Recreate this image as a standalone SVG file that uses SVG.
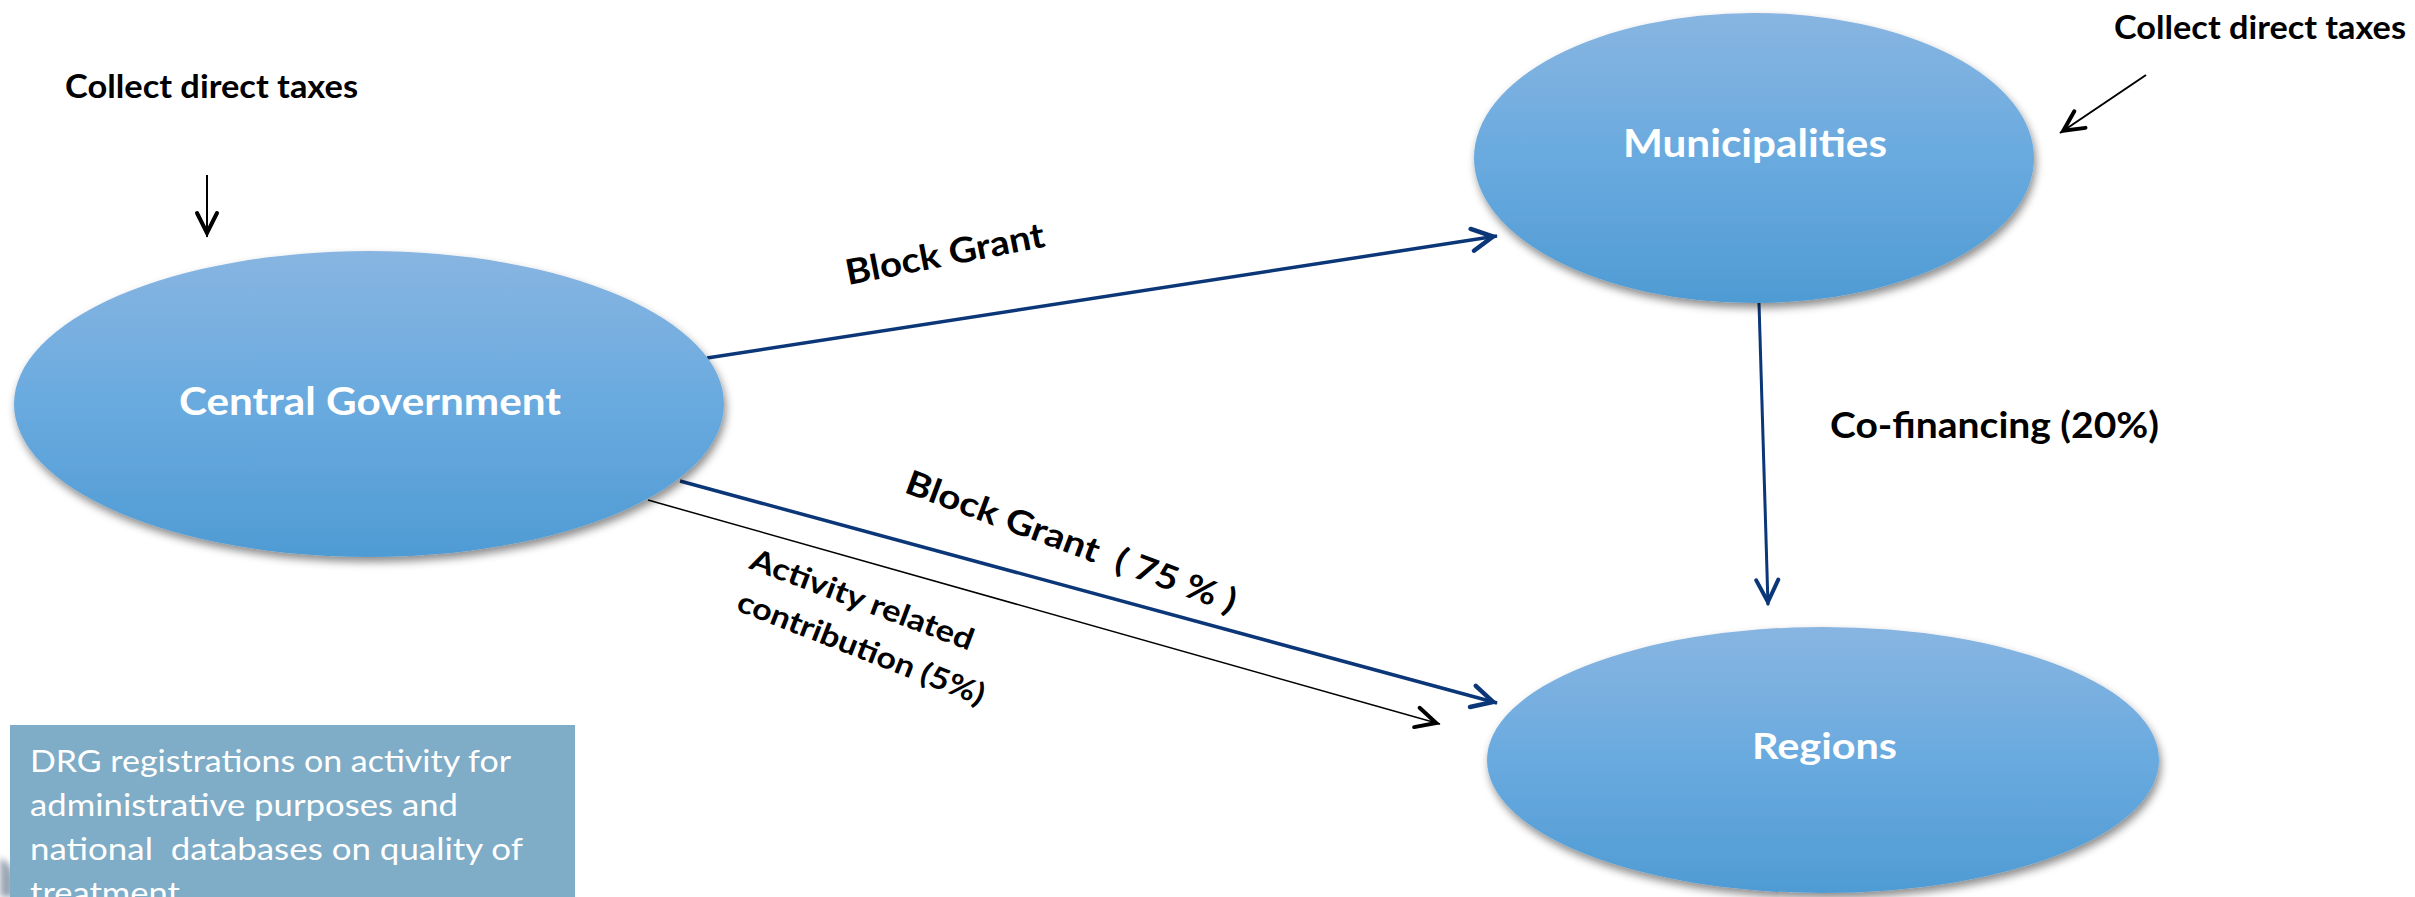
<svg xmlns="http://www.w3.org/2000/svg" width="2415" height="897" viewBox="0 0 2415 897">
<style>
text{font-family:Lato,"Liberation Sans","DejaVu Sans",sans-serif}
.lbl{font-weight:700;fill:#000}
.node{font-weight:700;fill:#fff}
.note{font-weight:400;fill:#fff}
.ell{fill:url(#gBlue);filter:url(#sh)}
.navy{stroke:#0B3678;fill:none}
.blk{stroke:#000;fill:none}
</style>
<defs>
<linearGradient id="gBlue" x1="0" y1="0" x2="0" y2="1">
<stop offset="0" stop-color="#88B5E1"/>
<stop offset="0.5" stop-color="#69AADF"/>
<stop offset="1" stop-color="#4F9BD4"/>
</linearGradient>
<filter id="sh" x="-10%" y="-10%" width="125%" height="130%">
<feDropShadow dx="2" dy="5" stdDeviation="4" flood-color="#000" flood-opacity="0.45"/>
</filter>
<filter id="blur"><feGaussianBlur stdDeviation="3"/></filter>
<marker id="hNavy" markerUnits="userSpaceOnUse" viewBox="-30 -16 34 32" refX="0" refY="0" markerWidth="34" markerHeight="32" orient="auto">
<path d="M-25,-11 L-4,0 L-25,11" fill="none" stroke="#0B3678" stroke-width="4.5" stroke-linecap="round"/>
</marker>
<marker id="hNavyS" markerUnits="userSpaceOnUse" viewBox="-30 -16 34 32" refX="0" refY="0" markerWidth="34" markerHeight="32" orient="auto">
<path d="M-25,-11 L-3,0 L-25,11" fill="none" stroke="#0B3678" stroke-width="4" stroke-linecap="round"/>
</marker>
<marker id="hBlk" markerUnits="userSpaceOnUse" viewBox="-30 -16 34 32" refX="0" refY="0" markerWidth="34" markerHeight="32" orient="auto">
<path d="M-24,-10 L-4,0 L-24,10" fill="none" stroke="#000" stroke-width="4" stroke-linecap="round"/>
</marker>
</defs>

<rect width="2415" height="897" fill="#fff"/>

<g id="connectors">
<line class="blk" x1="207" y1="175" x2="207" y2="237" stroke-width="2" marker-end="url(#hBlk)"/>
<line class="blk" x1="2146" y1="75" x2="2060" y2="133" stroke-width="2" marker-end="url(#hBlk)"/>
<line class="navy" x1="707" y1="358" x2="1497" y2="236" stroke-width="3.5" marker-end="url(#hNavy)"/>
<line class="navy" x1="680" y1="481" x2="1497" y2="703" stroke-width="3.5" marker-end="url(#hNavy)"/>
<line class="blk" x1="648" y1="500" x2="1440" y2="724" stroke-width="1.5" marker-end="url(#hBlk)"/>
<line class="navy" x1="1759" y1="303" x2="1768" y2="605" stroke-width="3" marker-end="url(#hNavyS)"/>
</g>

<g id="node-central">
<ellipse class="ell" cx="369" cy="404" rx="355" ry="153"/>
<text class="node" x="179" y="415" font-size="39" textLength="382" lengthAdjust="spacingAndGlyphs">Central Government</text>
</g>

<g id="node-municipalities">
<ellipse class="ell" cx="1754" cy="158" rx="280" ry="145"/>
<text class="node" x="1623" y="157" font-size="39" textLength="264" lengthAdjust="spacingAndGlyphs">Municipalities</text>
</g>

<g id="node-regions">
<ellipse class="ell" cx="1823" cy="760" rx="336" ry="133"/>
<text class="node" x="1752" y="759" font-size="37" textLength="145" lengthAdjust="spacingAndGlyphs">Regions</text>
</g>

<g id="labels">
<text class="lbl" x="65" y="98" font-size="32" textLength="293" lengthAdjust="spacingAndGlyphs">Collect direct taxes</text>
<text class="lbl" x="2114" y="39" font-size="32" textLength="292" lengthAdjust="spacingAndGlyphs">Collect direct taxes</text>
<text class="lbl" x="1830" y="438" font-size="36" textLength="329" lengthAdjust="spacingAndGlyphs">Co-financing (20%)</text>
<text class="lbl" x="848" y="285" font-size="35" textLength="202" lengthAdjust="spacingAndGlyphs" transform="rotate(-11 848 285)">Block Grant</text>
<text class="lbl" x="903" y="492" font-size="34" textLength="350" lengthAdjust="spacingAndGlyphs" transform="rotate(20.3 903 492)" xml:space="preserve">Block Grant  ( 75 % )</text>
<text class="lbl" x="748" y="568" font-size="30" textLength="236" lengthAdjust="spacingAndGlyphs" transform="rotate(20.5 748 568)">Activity related</text>
<text class="lbl" x="735" y="610" font-size="30" textLength="263" lengthAdjust="spacingAndGlyphs" transform="rotate(21.3 735 610)">contribution (5%)</text>
</g>

<g id="note-drg">
<path d="M0,858 Q12,862 14,880 L14,897 L0,897 Z" fill="#9AA6B2" filter="url(#blur)"/>
<rect x="10" y="725" width="565" height="172" fill="#7FACC6"/>
<text class="note" x="30" y="772" font-size="31" textLength="481" lengthAdjust="spacingAndGlyphs">DRG registrations on activity for</text>
<text class="note" x="30" y="816" font-size="31" textLength="428" lengthAdjust="spacingAndGlyphs">administrative purposes and</text>
<text class="note" x="30" y="860" font-size="31" textLength="493" lengthAdjust="spacingAndGlyphs" xml:space="preserve">national  databases on quality of</text>
<text class="note" x="30" y="904" font-size="31" textLength="150" lengthAdjust="spacingAndGlyphs">treatment</text>
</g>
</svg>
